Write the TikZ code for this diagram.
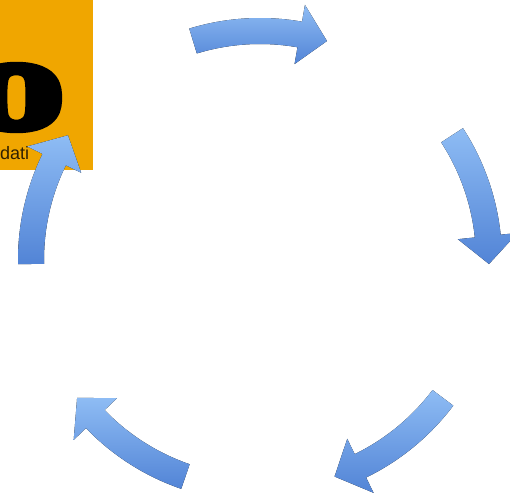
\documentclass[tikz,border=0pt]{standalone}
\usepackage{fontspec}
\setmainfont{Liberation Sans}
\newfontfamily\heavyfont[FakeBold=11]{lmroman10-bold.otf}
\usepackage{xcolor}
\usepackage{tikz}
\definecolor{boxorange}{RGB}{240,166,0}
\definecolor{labelbrown}{RGB}{48,32,0}
\definecolor{arrowlight}{RGB}{142,188,244}
\definecolor{arrowdark}{RGB}{82,132,214}
\tikzset{cyclearrow/.style={top color=arrowlight,bottom color=arrowdark,draw=none}}

\begin{document}
\begin{tikzpicture}[x=1pt,y=1pt]
      \useasboundingbox (0,0) rectangle (510,-498);
      \fill[boxorange] (0,0) rectangle (93,-170);
      \begin{scope}
        \clip (0,0) rectangle (93,-170);
        \node[xscale=1.67,inner sep=0] (zero) at (16.5,-97.5) {\heavyfont\fontsize{92}{92}\selectfont 0};
        \node[anchor=base west,inner sep=0,text=labelbrown] (label) at (0,-159) {\fontsize{18}{18}\selectfont dati};
      \end{scope}
      \begin{scope}[shift={(260,-260)}]
        \foreach \a in {90,16,-54,-126,164}
          \fill[cyclearrow] ({\a+17}:242) arc[start angle=\a+17,end angle=\a-10,radius=242] -- ({\a-10}:259) -- ({\a-17}:229) -- ({\a-10}:199) -- ({\a-10}:216) arc[start angle=\a-10,end angle=\a+17,radius=216] -- cycle;
      \end{scope}
    \end{tikzpicture}
\end{document}
